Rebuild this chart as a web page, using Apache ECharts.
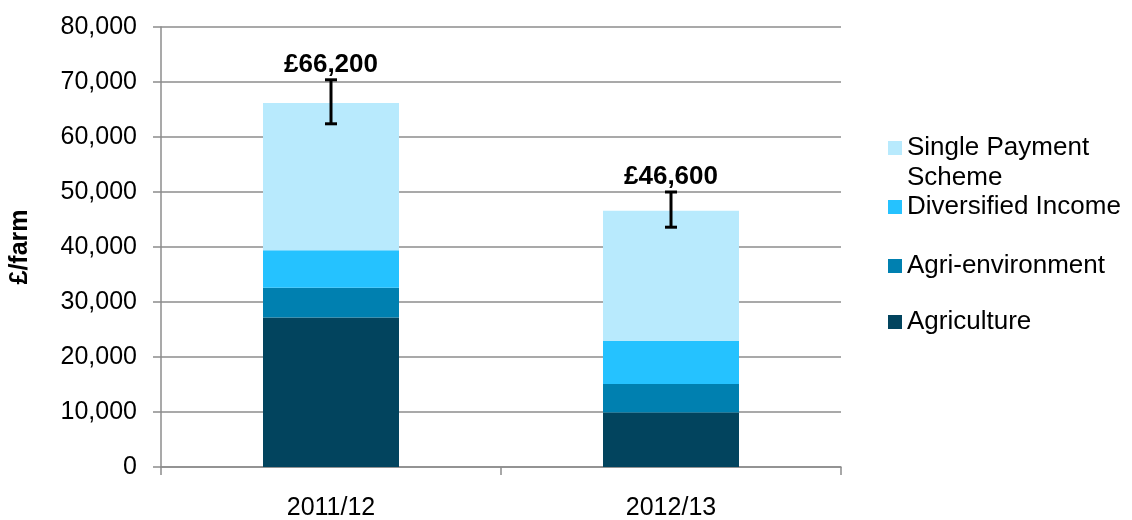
<!DOCTYPE html>
<html>
<head>
<meta charset="utf-8">
<script src="https://cdn.jsdelivr.net/npm/echarts@6/dist/echarts.min.js"></script>
<style>
  html, body { margin: 0; padding: 0; background: #fff; }
  #chart { width: 1132px; height: 520px; }
</style>
</head>
<body>
<div id="chart"></div>
<script>
const categories = ['2011/12', '2012/13'];
const agriculture = [27200, 9900];
const agriEnvironment = [5400, 5200];
const diversifiedIncome = [6800, 7800];
const singlePayment = [26800, 23700];
const errorLow = [62400, 43600];
const errorHigh = [70400, 50000];
const totalLabels = ['£66,200', '£46,600'];
const yTicks = [0, 10000, 20000, 30000, 40000, 50000, 60000, 70000, 80000];

const font = "'Liberation Sans', Arial, sans-serif";
const gridColor = '#8c8c8c';

const colors = {
  'Agriculture': '#02445e',
  'Agri-environment': '#0080b0',
  'Diversified Income': '#25c2ff',
  'Single Payment Scheme': '#b8eafd',
};

function barSeries(name, data) {
  return {
    name: name,
    type: 'bar',
    stack: 'total',
    barWidth: '40%',
    data: data,
    itemStyle: { color: colors[name] },
  };
}

function legendFor(name, top, label) {
  return {
    left: 888,
    top: top,
    padding: 0,
    itemWidth: 14,
    itemHeight: 14,
    icon: 'rect',
    data: [name],
    formatter: function () {
      return label;
    },
    textStyle: { fontFamily: font, fontSize: 26, lineHeight: 30, color: '#000' },
  };
}

const errorData = categories.map(function (c, i) {
  return [i, errorLow[i], errorHigh[i], totalLabels[i]];
});

function renderError(params, api) {
  const x = api.value(0);
  const lo = api.coord([x, api.value(1)]);
  const hi = api.coord([x, api.value(2)]);
  const half = 6;
  const style = { stroke: '#000', lineWidth: 3 };
  return {
    type: 'group',
    children: [
      { type: 'line', shape: { x1: hi[0], y1: hi[1], x2: lo[0], y2: lo[1] }, style: style },
      { type: 'line', shape: { x1: hi[0] - half, y1: hi[1], x2: hi[0] + half, y2: hi[1] }, style: style },
      { type: 'line', shape: { x1: lo[0] - half, y1: lo[1], x2: lo[0] + half, y2: lo[1] }, style: style },
      {
        type: 'text',
        x: hi[0],
        y: hi[1] - 2,
        style: {
          text: totalLabels[params.dataIndex],
          fontFamily: font,
          fontSize: 26,
          fontWeight: 'bold',
          fill: '#000',
          align: 'center',
          verticalAlign: 'bottom',
        },
      },
    ],
  };
}

const chart = echarts.init(document.getElementById('chart'));

chart.setOption({
  backgroundColor: '#fff',
  animation: false,
  grid: { left: 161, right: 291, top: 27, bottom: 53, outerBoundsMode: 'none', containLabel: false },
  legend: [
    legendFor('Single Payment Scheme', 103, '\nSingle Payment\nScheme'),
    legendFor('Diversified Income', 192, 'Diversified Income'),
    legendFor('Agri-environment', 251, 'Agri-environment'),
    legendFor('Agriculture', 307, 'Agriculture'),
  ],
  xAxis: {
    type: 'category',
    data: categories,
    axisLine: { lineStyle: { color: gridColor, width: 1.5 } },
    axisTick: { show: true, length: 8, lineStyle: { color: gridColor, width: 1.5 } },
    axisLabel: { fontFamily: font, fontSize: 25, color: '#000', margin: 29 },
  },
  yAxis: {
    type: 'value',
    min: yTicks[0],
    max: yTicks[yTicks.length - 1],
    interval: 10000,
    name: '£/farm',
    nameLocation: 'middle',
    nameGap: 128,
    nameTextStyle: { fontFamily: font, fontSize: 25, fontWeight: 'bold', color: '#000' },
    axisLine: { show: true, lineStyle: { color: gridColor, width: 1.5 } },
    axisTick: { show: true, length: 8, lineStyle: { color: gridColor, width: 1.5 } },
    splitLine: { lineStyle: { color: gridColor, width: 1.5 } },
    axisLabel: {
      fontFamily: font,
      fontSize: 25,
      color: '#000',
      margin: 24,
      formatter: function (v) {
        return v.toLocaleString('en-GB');
      },
    },
  },
  series: [
    barSeries('Agriculture', agriculture),
    barSeries('Agri-environment', agriEnvironment),
    barSeries('Diversified Income', diversifiedIncome),
    barSeries('Single Payment Scheme', singlePayment),
    {
      name: 'error',
      type: 'custom',
      renderItem: renderError,
      data: errorData,
      encode: { x: 0, y: [1, 2] },
      z: 10,
    },
  ],
});
</script>
</body>
</html>
